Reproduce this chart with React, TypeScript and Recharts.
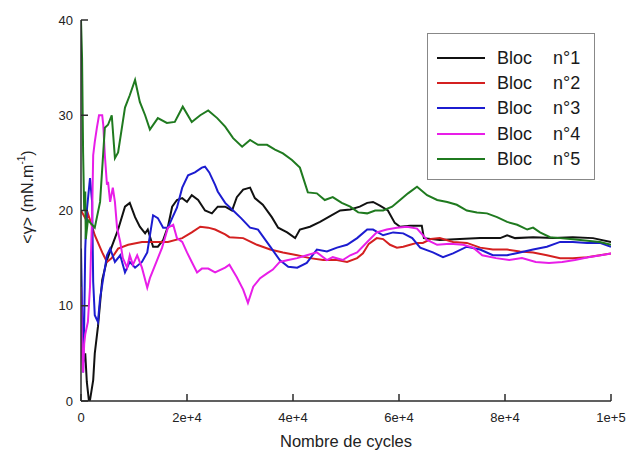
import { LineChart, Line, XAxis, YAxis, Legend } from 'recharts';

const xTicks = [0, 20000, 40000, 60000, 80000, 100000];
const xTickLabels = ['0', '2e+4', '4e+4', '6e+4', '8e+4', '1e+5'];
const yTicks = [0, 10, 20, 30, 40];

const blocNames = ['Bloc n°1', 'Bloc n°2', 'Bloc n°3', 'Bloc n°4', 'Bloc n°5'];
const blocColors = ['#111111', '#d42020', '#1c1cd0', '#e81ee8', '#1f7a1f'];

// [cycles, <γ>]
const bloc1: [number, number][] = [
  [0, 9], [200, 6], [400, 4], [800, 5], [1100, 2], [1500, 0], [1700, 0.1], [2300, 2.2], [2600, 5],
  [3200, 7.8], [4000, 12.7], [4900, 14.8], [5800, 16.2], [6400, 17.1], [7000, 18], [8300, 20.4],
  [9200, 20.8], [10200, 19.3], [11100, 18.3], [12100, 17.6], [12600, 18], [13600, 16.2], [14500, 16.2],
  [15500, 16.9], [16400, 18.3], [17200, 20.4], [18100, 21.1], [19100, 21.3], [20000, 20.9], [20900, 21.6],
  [22100, 21.1], [23400, 20], [24700, 19.7], [25800, 20.4], [27200, 20.4], [28500, 20], [29400, 21.4],
  [30600, 22.2], [31900, 22.4], [32800, 21.3], [34300, 20.6], [36000, 19.3], [37200, 18.2], [38900, 17.7],
  [40400, 17.1], [41300, 18], [43200, 18.3], [45100, 18.8], [47000, 19.4], [48900, 20], [50800, 20.1],
  [52600, 20.4], [54000, 20.8], [55100, 20.9], [56400, 20.5], [57900, 20], [59200, 18.7], [60200, 18.3],
  [62100, 18.4], [64300, 18.4], [64700, 17.1], [67700, 16.9], [71500, 17], [75300, 17.1], [79100, 17.1],
  [80400, 17.4], [81900, 17.1], [85300, 17.2], [89100, 17.1], [92800, 17.2], [96600, 17.1], [100000, 16.7],
];

const bloc2: [number, number][] = [
  [0, 20], [1000, 19], [1300, 19.7], [2000, 18.5], [2600, 17.4], [4000, 15.6], [4900, 14.6], [5800, 15],
  [7000, 16], [8900, 16.4], [11500, 16.7], [14000, 16.7], [16400, 16.7], [19100, 17.1], [20900, 17.7],
  [22500, 18.3], [24000, 18.2], [25300, 18], [27200, 17.5], [28000, 17.2], [30600, 17.1], [33200, 16.4],
  [35700, 15.9], [38100, 15.6], [40800, 15.3], [43200, 15], [45700, 14.8], [48300, 14.8], [50200, 14.6],
  [52100, 15], [53200, 15.5], [54300, 16.5], [55800, 17.1], [57000, 17], [58300, 16.4], [59600, 16.1],
  [60800, 16.2], [62100, 16.4], [63400, 16.6], [64500, 16.6], [66000, 17], [67700, 17.1], [70200, 16.7],
  [72800, 16.6], [75300, 16.1], [77700, 15.9], [80400, 15.9], [82800, 15.7], [85300, 15.6], [87900, 15.3],
  [90400, 15], [92800, 15], [95500, 15.1], [97900, 15.3], [100000, 15.5],
];

const bloc3: [number, number][] = [
  [0, 16], [200, 10], [400, 3], [600, 8], [800, 16], [1100, 20], [1700, 23.4], [2100, 20.9], [2300, 12.5],
  [2600, 9], [3200, 8.3], [3600, 10.8], [4200, 12.9], [4900, 15.3], [5500, 16], [6400, 14.6], [7400, 15.3],
  [8300, 13.5], [9200, 14.6], [10200, 14], [11500, 14.6], [12500, 15.6], [13600, 19.5], [14500, 19.2],
  [15500, 18.2], [16400, 18.2], [17200, 19.2], [18100, 20.3], [19100, 22.4], [20200, 23.7], [21500, 24],
  [22800, 24.5], [23400, 24.6], [24200, 24], [25300, 22.7], [25800, 22], [27200, 20.8], [28700, 20],
  [30200, 19.2], [31900, 18.2], [33400, 18], [35700, 16.2], [37500, 14.8], [39100, 14.1], [40800, 14],
  [42600, 14.5], [44500, 15.9], [46400, 15.7], [48300, 16.1], [50200, 16.4], [52100, 17.1], [54000, 18],
  [55100, 18], [57000, 17.4], [58900, 17.7], [60800, 17.6], [62500, 17.1], [64000, 16.1], [66400, 15.6],
  [68300, 15.1], [70200, 15.5], [72800, 16.2], [75300, 15.9], [77700, 15.3], [80400, 15.3], [82800, 15.6],
  [85300, 15.9], [87900, 16.2], [90400, 16.7], [92800, 16.7], [95500, 16.6], [97900, 16.6], [100000, 16.2],
];

const bloc4: [number, number][] = [
  [0, 12], [200, 5], [400, 3], [600, 6], [800, 7], [1300, 8.3], [1700, 12], [2100, 19.5], [2300, 25.8],
  [2600, 27.2], [3000, 28.7], [3400, 30], [4000, 30], [4200, 29], [4500, 25.8], [4900, 22.7], [5100, 23],
  [5500, 20.9], [6000, 22.4], [6400, 20.9], [6800, 18.2], [7400, 16.7], [7900, 15], [8700, 14], [9200, 15.3],
  [9800, 14.3], [10600, 15.3], [11500, 14], [12500, 11.9], [13000, 12.9], [14000, 14.3], [15300, 16.1],
  [16400, 18.2], [17400, 18.5], [18100, 17.1], [19100, 16.7], [20000, 15.6], [20900, 14.6], [21900, 13.5],
  [22800, 13.9], [24000, 13.9], [25300, 13.5], [27200, 14], [28000, 14.3], [29400, 13], [30600, 11.7],
  [31500, 10.3], [32500, 12], [33800, 12.9], [35100, 13.4], [36200, 13.8], [37500, 14.6], [39100, 14.8],
  [40800, 15], [42600, 15.3], [44500, 15.6], [46400, 14.8], [47500, 15.1], [49400, 14.8], [50800, 15.3],
  [52100, 15.6], [54000, 16.7], [55800, 17.7], [57700, 18], [59600, 18.2], [61500, 18.3], [63400, 18.1],
  [65300, 16.9], [67200, 16.4], [69600, 16.5], [72100, 16.4], [74000, 16.1], [75700, 15.3], [78300, 15],
  [80800, 14.8], [83200, 15], [85800, 14.6], [88300, 14.5], [90800, 14.6], [93200, 14.8], [95700, 15.1],
  [98100, 15.3], [100000, 15.5],
];

const bloc5: [number, number][] = [
  [0, 40], [200, 36], [400, 26], [600, 20], [800, 22], [900, 17], [1300, 19], [2600, 18.2], [3600, 20.9],
  [4500, 28.7], [5100, 29], [5800, 30], [6400, 25.5], [7000, 26.1], [8300, 30.8], [9200, 32.1], [10200, 33.7],
  [11100, 31.4], [12100, 30], [13000, 28.5], [14500, 29.7], [16200, 29.2], [17700, 29.3], [19200, 30.9],
  [20900, 29.3], [22500, 30], [24000, 30.5], [25700, 29.7], [27200, 28.8], [28700, 27.6], [30400, 26.7],
  [31900, 27.4], [33400, 26.9], [35100, 26.9], [36600, 26.4], [38100, 26], [39800, 25.3], [41300, 24.5],
  [42800, 21.9], [44500, 21.8], [46000, 21.1], [47500, 21.4], [49200, 20.8], [50800, 20.4], [52300, 19.8],
  [54000, 19.7], [55500, 20], [57000, 20], [58700, 20.4], [60200, 21.1], [61700, 21.8], [63400, 22.5],
  [65300, 21.6], [67200, 21.1], [69100, 20.9], [70900, 20.6], [72800, 20], [74700, 19.8], [76600, 19.7],
  [78500, 19.3], [80400, 18.8], [82300, 18.5], [84200, 18], [85300, 18.2], [86600, 17.7], [88500, 17.2],
  [90400, 17.1], [92300, 17], [94200, 16.9], [96000, 16.8], [97900, 16.7], [100000, 16.4],
];

const blocs = [bloc1, bloc2, bloc3, bloc4, bloc5];

const AXIS = '#2b2b2b';
const FONT = '"Liberation Sans", Arial, sans-serif';

function BottomTick({ x, y, payload }: any) {
  const label = xTickLabels[xTicks.indexOf(payload.value)];
  return (
    <g>
      <line x1={x} x2={x} y1={y - 12} y2={y - 19} stroke={AXIS} strokeWidth={1.5} />
      <text x={x} y={y} dy={8.7} textAnchor="middle" fontSize={13} fill="#222" fontFamily={FONT}>
        {label}
      </text>
    </g>
  );
}

function TopTick({ x, y }: any) {
  return <line x1={x} x2={x} y1={y} y2={y + 7} stroke={AXIS} strokeWidth={1.5} />;
}

function LeftTick({ x, y, payload }: any) {
  return (
    <g>
      <line x1={x + 8} x2={x + 15} y1={y} y2={y} stroke={AXIS} strokeWidth={1.5} />
      <text x={x} y={y} dy={4.6} textAnchor="end" fontSize={13} fill="#222" fontFamily={FONT}>
        {payload.value}
      </text>
    </g>
  );
}

function RightTick({ x, y }: any) {
  return <line x1={x} x2={x - 7} y1={y} y2={y} stroke={AXIS} strokeWidth={1.5} />;
}

function LegendBox({ payload }: any) {
  return (
    <div
      style={{
        position: 'relative',
        width: 168,
        height: 147,
        border: '1px solid #888',
        background: '#fff',
        boxSizing: 'border-box',
        fontFamily: FONT,
        fontSize: 18,
        color: '#1a1a1a',
      }}
    >
      {(payload || []).map((p: any, i: number) => {
        const [word, num] = String(p.value).split(' ');
        const top = 24 + i * 25.2;
        return (
          <div key={p.value} style={{ position: 'absolute', left: 0, top: top - 11, height: 22, width: '100%' }}>
            <div style={{ position: 'absolute', left: 9, top: 10, width: 48, height: 2, background: p.color }} />
            <span style={{ position: 'absolute', left: 69, top: 0, lineHeight: '22px' }}>{word}</span>
            <span style={{ position: 'absolute', left: 125, top: 0, lineHeight: '22px' }}>{num}</span>
          </div>
        );
      })}
    </div>
  );
}

export default function App() {
  return (
    <div style={{ position: 'absolute', left: 0, top: 0, width: 629, height: 459, background: '#fff' }}>
      <LineChart width={629} height={459} margin={{ top: 20, right: 18, bottom: 0, left: 0 }}>
        <XAxis
          dataKey="x"
          type="number"
          domain={[0, 100000]}
          ticks={xTicks}
          interval={0}
          allowDataOverflow
          height={58}
          tickSize={0}
          tickMargin={12}
          tickLine={false}
          axisLine={{ stroke: AXIS, strokeWidth: 1.5 }}
          tick={<BottomTick />}
          label={{
            content: ({ viewBox }: any) => (
              <text
                x={viewBox.x + viewBox.width / 2}
                y={447}
                textAnchor="middle"
                fontSize={16.5}
                fill="#222"
                fontFamily={FONT}
              >
                Nombre de cycles
              </text>
            ),
          }}
        />
        <XAxis
          xAxisId="top"
          orientation="top"
          type="number"
          domain={[0, 100000]}
          ticks={xTicks}
          interval={0}
          height={0}
          tickSize={0}
          tickMargin={0}
          tickLine={false}
          axisLine={{ stroke: AXIS, strokeWidth: 1.5 }}
          tick={<TopTick />}
        />
        <YAxis
          type="number"
          domain={[0, 40]}
          ticks={yTicks}
          interval={0}
          allowDataOverflow
          width={81}
          tickSize={0}
          tickMargin={8}
          tickLine={false}
          axisLine={{ stroke: AXIS, strokeWidth: 1.5 }}
          tick={<LeftTick />}
          label={{
            content: () => (
              <text
                x={27}
                y={197}
                transform="rotate(-90 27 197)"
                textAnchor="middle"
                dominantBaseline="central"
                fontSize={16}
                fill="#222"
                fontFamily={FONT}
              >
                {'<γ> (mN.m'}
                <tspan dy={-6} fontSize={10}>-1</tspan>
                <tspan dy={6}>)</tspan>
              </text>
            ),
          }}
        />
        <YAxis
          yAxisId="right"
          orientation="right"
          type="number"
          domain={[0, 40]}
          ticks={yTicks}
          interval={0}
          width={0}
          tickSize={0}
          tickMargin={0}
          tickLine={false}
          axisLine={{ stroke: AXIS, strokeWidth: 1.5 }}
          tick={<RightTick />}
        />
        <Legend
          layout="vertical"
          align="center"
          verticalAlign="middle"
          content={<LegendBox />}
          wrapperStyle={{ left: 427, top: 33, width: 168, height: 147 }}
        />
        {blocs.map((b, i) => (
          <Line
            key={blocNames[i]}
            name={blocNames[i]}
            data={b.map(([x, y]) => ({ x, y }))}
            dataKey="y"
            type="linear"
            stroke={blocColors[i]}
            strokeWidth={2}
            dot={false}
            isAnimationActive={false}
          />
        ))}
      </LineChart>
    </div>
  );
}
